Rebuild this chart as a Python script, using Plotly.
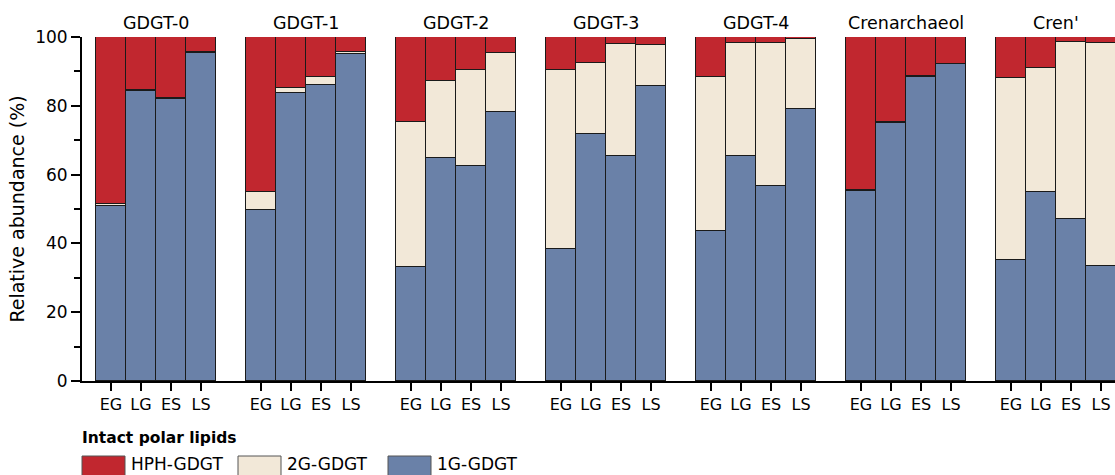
import plotly.graph_objects as go

# ---------------- data ----------------
compounds = ["GDGT-0", "GDGT-1", "GDGT-2", "GDGT-3", "GDGT-4", "Crenarchaeol", "Cren'"]
samples = ["EG", "LG", "ES", "LS"]

# relative abundance (%) per compound, per sample (EG, LG, ES, LS)
g1 = [  # 1G-GDGT
    [51.0, 84.2, 82.0, 95.3],
    [49.7, 83.7, 86.0, 95.1],
    [33.0, 64.7, 62.6, 78.2],
    [38.4, 71.8, 65.5, 85.7],
    [43.5, 65.5, 56.8, 79.2],
    [55.2, 75.1, 88.3, 92.1],
    [35.1, 54.8, 47.0, 33.5],
]
g2 = [  # 2G-GDGT
    [0.5, 0.3, 0.4, 0.3],
    [5.3, 1.4, 2.4, 0.6],
    [42.2, 22.5, 27.9, 17.2],
    [51.9, 20.6, 32.5, 12.0],
    [44.9, 32.7, 41.4, 20.2],
    [0.3, 0.3, 0.5, 0.1],
    [53.1, 36.1, 51.6, 64.7],
]
hph = [  # HPH-GDGT
    [48.5, 15.5, 17.6, 4.4],
    [45.0, 14.9, 11.6, 4.3],
    [24.8, 12.8, 9.5, 4.6],
    [9.7, 7.6, 2.0, 2.3],
    [11.6, 1.8, 1.8, 0.6],
    [44.5, 24.6, 11.2, 7.8],
    [11.8, 9.1, 1.4, 1.8],
]
series_names = ["HPH-GDGT", "2G-GDGT", "1G-GDGT"]
colors = {"HPH-GDGT": "#C1272F", "2G-GDGT": "#F2E8D8", "1G-GDGT": "#6A81A8"}

# ---------------- layout helpers ----------------
W, H = 1115, 475
ML, MR, MT, MB = 82, 0, 37, 94
PW, PH = W - ML - MR, H - MT - MB
GROUP_STEP = 5  # 4 bars + 1 gap

def px2paper_x(px):
    return (px - ML) / PW

def px2paper_y(py):
    return (H - MB - py) / PH

xs, labels = [], []
for p in range(len(compounds)):
    for j, s in enumerate(samples):
        xs.append(p * GROUP_STEP + j)
        labels.append(s)

def flat(rows):
    return [v for r in rows for v in r]

FONT = "DejaVu Sans"
fig = go.Figure()
line = dict(color="#1a1a1a", width=1)
for name, vals in [("1G-GDGT", g1), ("2G-GDGT", g2), ("HPH-GDGT", hph)]:
    fig.add_trace(go.Bar(
        x=xs, y=flat(vals), name=name, width=1,
        marker=dict(color=colors[name], line=line),
        showlegend=False,
    ))

# panel titles
for p, c in enumerate(compounds):
    fig.add_annotation(
        x=p * GROUP_STEP + 1.5, xref="x", y=1, yref="paper",
        yanchor="bottom", yshift=2, text=c, showarrow=False,
        font=dict(family=FONT, size=17.5, color="black"),
    )

# legend (drawn manually to reproduce the large swatches)
fig.add_annotation(
    x=px2paper_x(80), y=px2paper_y(438), xref="paper", yref="paper",
    xanchor="left", yanchor="middle", showarrow=False,
    text="<b>Intact polar lipids</b>",
    font=dict(family=FONT, size=15.5, color="black"),
)
sw = [(82, "HPH-GDGT"), (238, "2G-GDGT"), (388, "1G-GDGT")]
for x0, name in sw:
    fig.add_shape(
        type="rect", xref="paper", yref="paper",
        x0=px2paper_x(x0), x1=px2paper_x(x0 + 43),
        y0=px2paper_y(456), y1=px2paper_y(485),
        fillcolor=colors[name], line=dict(color="#555555", width=1),
    )
    fig.add_annotation(
        x=px2paper_x(x0 + 47), y=px2paper_y(464), xref="paper", yref="paper",
        xanchor="left", yanchor="middle", showarrow=False, text=name,
        font=dict(family=FONT, size=17, color="black"),
    )

fig.update_layout(
    width=W, height=H,
    margin=dict(l=ML, r=MR, t=MT, b=MB),
    barmode="stack", bargap=0,
    plot_bgcolor="white", paper_bgcolor="white",
    font=dict(family=FONT, size=17, color="black"),
)
fig.update_xaxes(
    range=[-0.967, (W - ML - MR) / 30 - 0.967],
    tickvals=xs, ticktext=labels, ticks="outside", ticklen=8, tickwidth=1.5,
    tickcolor="black", showline=True, linecolor="black", linewidth=2,
    showgrid=False, zeroline=False, tickfont=dict(size=16),
)
fig.update_yaxes(
    range=[0, 100], tickvals=[0, 20, 40, 60, 80, 100], ticks="outside",
    ticklen=9, tickwidth=1.5, tickcolor="black",
    minor=dict(dtick=10, ticks="outside", ticklen=6, tickwidth=1.5, tickcolor="black"),
    showline=True, linecolor="black", linewidth=2, showgrid=False, zeroline=False,
    title=dict(text="Relative abundance (%)", font=dict(size=19), standoff=5),
    tickfont=dict(size=17),
)

fig.write_html("out.html")
